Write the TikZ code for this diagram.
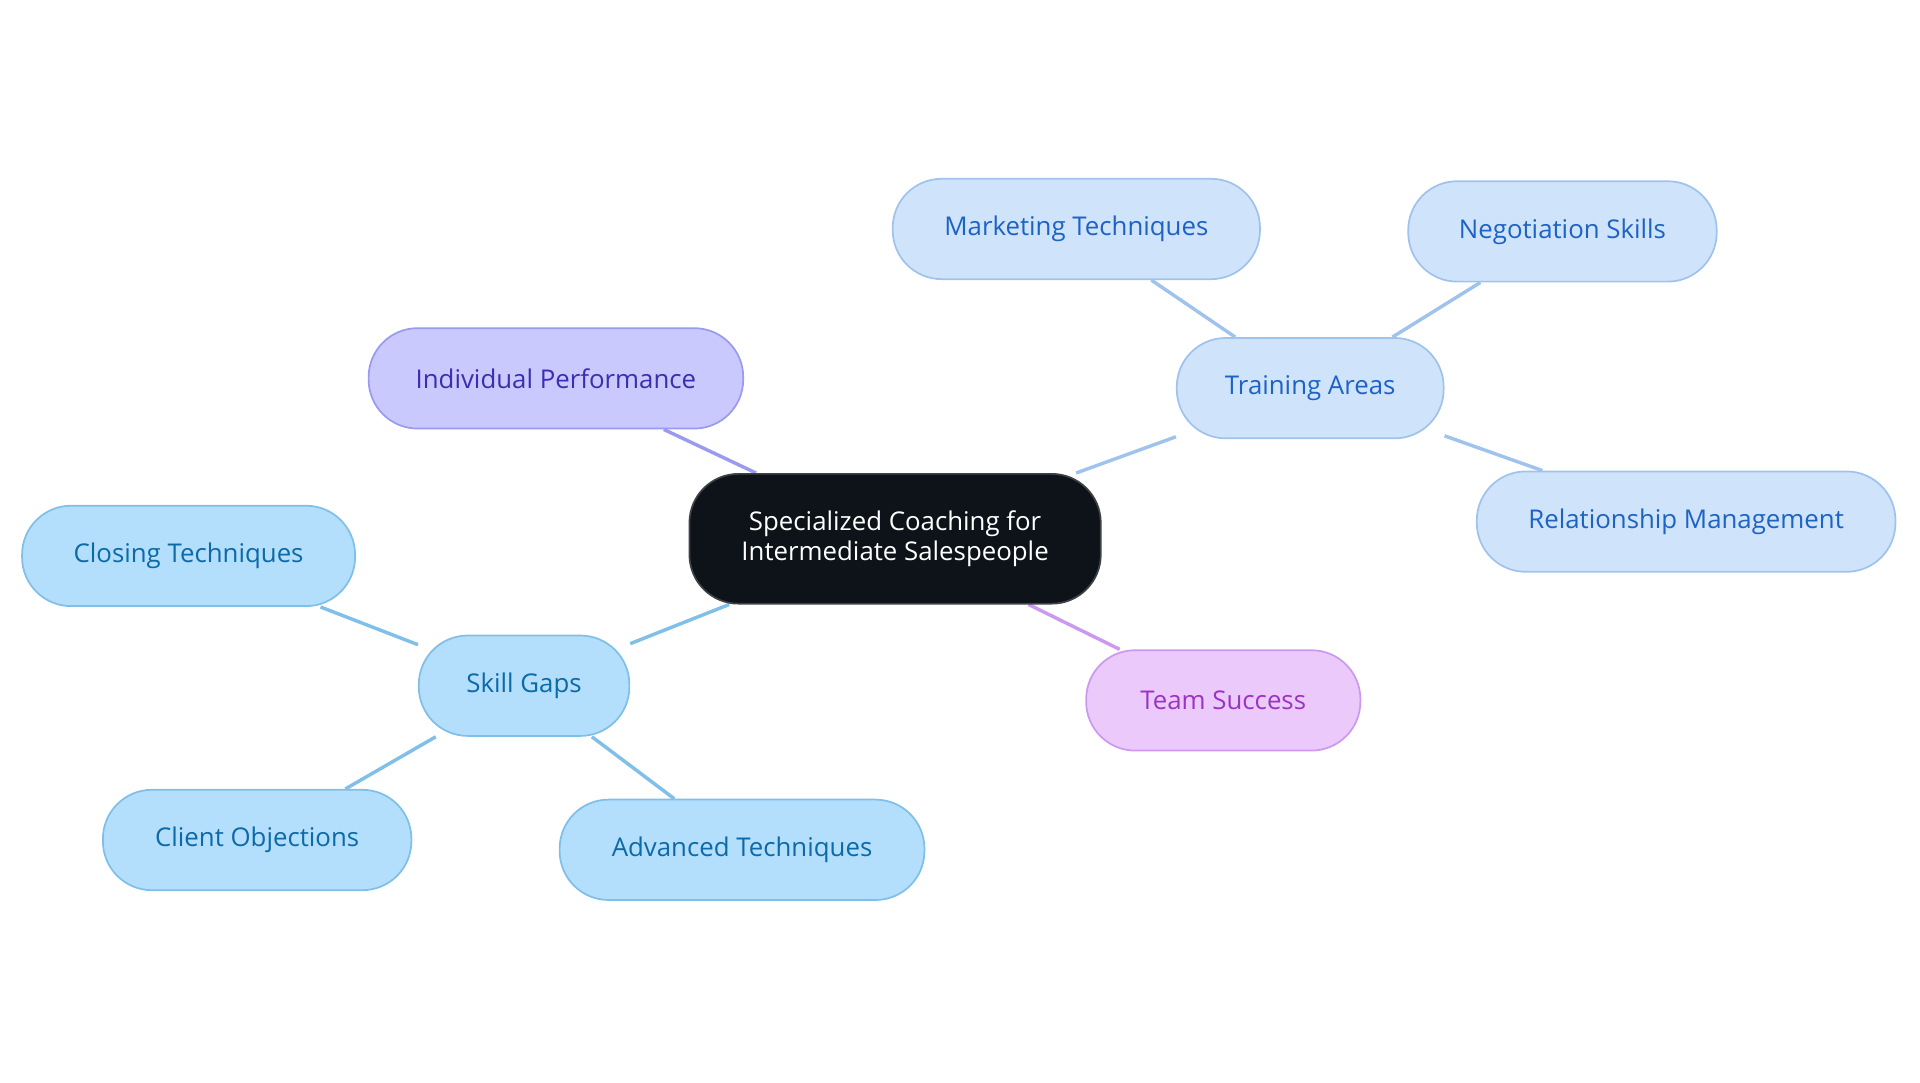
\documentclass[tikz,border=0pt]{standalone}
\usepackage{fontspec}
\setmainfont{Open Sans}
\usetikzlibrary{backgrounds}
\definecolor{rootfill}{HTML}{0D1318}
\definecolor{indfill}{HTML}{C9C9FD}\definecolor{inddraw}{HTML}{9A9AF0}\definecolor{indtext}{HTML}{3A2FB0}
\definecolor{trfill}{HTML}{CFE3FB}\definecolor{trdraw}{HTML}{9FC3EC}\definecolor{trtext}{HTML}{1D63C4}
\definecolor{tmfill}{HTML}{EBC9FB}\definecolor{tmdraw}{HTML}{CC99EE}\definecolor{tmtext}{HTML}{9B34C4}
\definecolor{skfill}{HTML}{B3DEFC}\definecolor{skdraw}{HTML}{7FBFE8}\definecolor{sktext}{HTML}{0C6AA8}
\begin{document}
\begin{tikzpicture}[x=0.02cm, y=-0.02cm]
\tikzset{ box/.style={rounded corners=0.8cm, minimum height=1.64cm, font=\fontsize{12}{14}\selectfont, line width=0.8pt, align=center},
  ind/.style={box, fill=indfill, draw=inddraw, text=indtext},
  tr/.style={box, fill=trfill, draw=trdraw, text=trtext},
  tm/.style={box, fill=tmfill, draw=tmdraw, text=tmtext},
  sk/.style={box, fill=skfill, draw=skdraw, text=sktext},
  link/.style={line width=1.6pt} }
\useasboundingbox (0,0) rectangle (1568,884);

\node [box, fill=rootfill, draw=rootfill!80!white, text=white, minimum width=6.72cm, minimum height=2.12cm] (C) at (731,440) {Specialized Coaching for\\Intermediate Salespeople};

\node [ind, minimum width=6.12cm] (IP) at (454,309) {Individual Performance};

\node [tr, minimum width=4.36cm] (TA) at (1070,317) {Training Areas};
\node [tr, minimum width=6.0cm]  (MT) at (879,187)  {Marketing Techniques};
\node [tr, minimum width=5.04cm] (NS) at (1276,189) {Negotiation Skills};
\node [tr, minimum width=6.84cm] (RM) at (1377,426) {Relationship Management};

\node [tm, minimum width=4.48cm] (TS) at (999,572) {Team Success};

\node [sk, minimum width=3.44cm] (SG) at (428,560) {Skill Gaps};
\node [sk, minimum width=5.44cm] (CT) at (154,454) {Closing Techniques};
\node [sk, minimum width=5.04cm] (CO) at (210,686) {Client Objections};
\node [sk, minimum width=5.96cm] (AT) at (606,694) {Advanced Techniques};

\begin{pgfonlayer}{background}
\draw [link, inddraw] (C) -- (IP);
\draw [link, trdraw] (C) -- (TA);
\draw [link, trdraw] (TA) -- (MT);
\draw [link, trdraw] (TA) -- (NS);
\draw [link, trdraw] (TA) -- (RM);
\draw [link, tmdraw] (C) -- (TS);
\draw [link, skdraw] (C) -- (SG);
\draw [link, skdraw] (SG) -- (CT);
\draw [link, skdraw] (SG) -- (CO);
\draw [link, skdraw] (SG) -- (AT);
\end{pgfonlayer}

\end{tikzpicture}
\end{document}
